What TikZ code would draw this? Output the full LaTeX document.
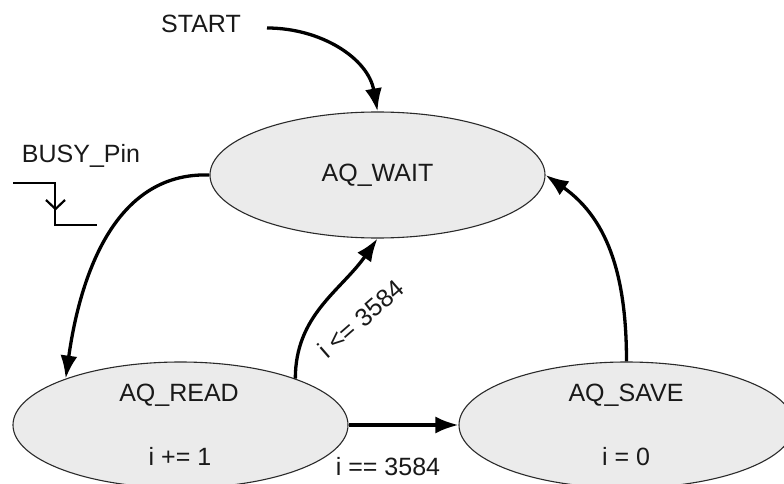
\documentclass[tikz,border=0pt]{standalone}
\usepackage{fontspec}
\setmainfont{Liberation Sans}
\usetikzlibrary{shapes.geometric,arrows.meta}
\definecolor{statefill}{HTML}{EBEBEB}
\definecolor{stateline}{HTML}{2A2A2A}
\begin{document}
\begin{tikzpicture}[x=1pt,y=-1pt,
  state/.style={ellipse,draw=stateline,line width=1.1pt,fill=statefill,minimum width=335pt,minimum height=126pt,inner sep=0pt},
  txt/.style={font=\fontsize{25}{30}\selectfont,text=black!90,inner sep=0pt},
  trans/.style={line width=3.3pt,-{Latex[length=23pt,width=17pt]}},
  sig/.style={line width=2.6pt}]
\useasboundingbox (0,0) rectangle (784,484);
\fill[white] (0,0) rectangle (784,484);
% states
\node[state] (wait) at (377.5,175) {};
\node[state] (read) at (180.5,425) {};
\node[state] (save) at (626.5,425) {};
\node[txt] (waitname) at (377.5,175) {AQ\_WAIT};
\node[txt] (readname) at (179,395) {AQ\_READ};
\node[txt] (readop) at (180,456) {i += 1};
\node[txt] (savename) at (626,395) {AQ\_SAVE};
\node[txt] (saveop) at (626,457) {i = 0};
% start
\node[txt] (start) at (201,24) {START};
\coordinate (startend) at (267,28);
\draw[trans] (startend) to[out=0,in=100] (wait.north);
% busy pin
\node[txt] (busy) at (81,156) {BUSY\_Pin};
\coordinate (s1) at (13,183);
\coordinate (s2) at (55,183);
\coordinate (s3) at (55,225);
\coordinate (s4) at (97,225);
\draw[sig] (s1) -- (s2) -- (s3) -- (s4);
\coordinate (v1) at (46,200);
\coordinate (v2) at (55.5,209);
\coordinate (v3) at (65,200);
\draw[line width=2.2pt] (v1) -- (v2) -- (v3);
% transitions
\draw[trans] (wait.west) to[out=178,in=82] (read.158);
\draw[trans] (read.22) to[out=90,in=235] (wait.south);
\draw[trans] (read.east) -- (save.west);
\draw[trans] (save.north) to[out=90,in=-35] (wait.east);
% labels
\node[txt,rotate=41] (lle) at (361,319) {i <= 3584};
\node[txt] (leq) at (388,467) {i == 3584};
\end{tikzpicture}
\end{document}
